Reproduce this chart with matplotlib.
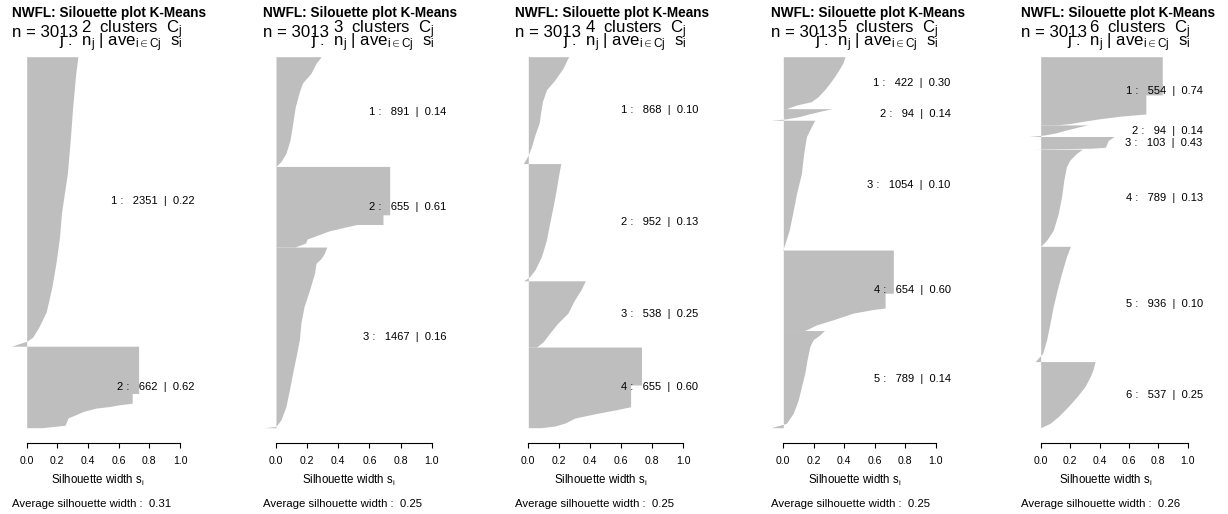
import matplotlib
matplotlib.use("Agg")
import matplotlib.pyplot as plt

plt.rcParams['font.family'] = ['Liberation Sans', 'DejaVu Sans']
plt.rcParams['mathtext.fontset'] = 'custom'
plt.rcParams['mathtext.rm'] = 'Liberation Sans'
plt.rcParams['mathtext.it'] = 'Liberation Sans'
plt.rcParams['mathtext.bf'] = 'Liberation Sans:bold'

title = "NWFL: Silouette plot K-Means"
n_total = 3013
n_clusters = [2, 3, 4, 5, 6]
avg_width = [0.31, 0.25, 0.25, 0.25, 0.26]

# each cluster profile: rank position inside the cluster (0 = top, 1 = bottom) and silhouette width
# k = 2
k2_sizes = [2351, 662]
k2_avg = [0.22, 0.62]
k2_rank = [[0, 0.058, 0.173, 0.288, 0.404, 0.539, 0.623, 0.709, 0.796, 0.882, 0.934, 0.969, 0.983, 1.0],
           [0, 0.58, 0.58, 0.70, 0.72, 0.74, 0.76, 0.80, 0.88, 0.97, 0.99, 1.0]]
k2_s = [[0.334, 0.32, 0.30, 0.284, 0.265, 0.227, 0.214, 0.192, 0.164, 0.127, 0.079, 0.039, 0.0, -0.10],
        [0.73, 0.73, 0.688, 0.688, 0.60, 0.54, 0.45, 0.37, 0.27, 0.25, 0.15, 0.10]]

# k = 3
k3_sizes = [891, 655, 1467]
k3_avg = [0.14, 0.61, 0.16]
k3_rank = [[0, 0.06, 0.15, 0.24, 0.32, 0.455, 0.61, 0.76, 0.88, 0.955, 1.0],
           [0, 0.60, 0.60, 0.72, 0.72, 0.75, 0.80, 0.85, 0.90, 0.95, 1.0],
           [0, 0.035, 0.063, 0.09, 0.146, 0.238, 0.33, 0.42, 0.513, 0.605, 0.697, 0.79, 0.882, 0.956, 0.993, 1.0]]
k3_s = [[0.29, 0.257, 0.225, 0.17, 0.15, 0.124, 0.107, 0.09, 0.064, 0.032, 0.0],
        [0.73, 0.73, 0.687, 0.687, 0.52, 0.45, 0.34, 0.27, 0.2, 0.19, 0.12],
        [0.326, 0.31, 0.29, 0.257, 0.247, 0.215, 0.18, 0.16, 0.15, 0.129, 0.107, 0.086, 0.064, 0.032, 0.0, -0.075]]

# k = 4
k4_sizes = [868, 952, 538, 655]
k4_avg = [0.10, 0.13, 0.25, 0.60]
k4_rank = [[0, 0.11, 0.22, 0.31, 0.42, 0.53, 0.62, 0.73, 0.84, 0.92, 1.0],
           [0, 0.082, 0.224, 0.366, 0.508, 0.65, 0.793, 0.906, 0.963, 1.0],
           [0, 0.136, 0.29, 0.49, 0.64, 0.79, 0.92, 1.0],
           [0, 0.47, 0.47, 0.74, 0.78, 0.82, 0.88, 0.94, 0.98, 1.0]]
k4_s = [[0.26, 0.223, 0.17, 0.117, 0.091, 0.079, 0.07, 0.043, 0.021, 0.0, -0.032],
        [0.21, 0.198, 0.18, 0.16, 0.138, 0.117, 0.085, 0.043, 0.01, -0.03],
        [0.368, 0.34, 0.298, 0.255, 0.19, 0.138, 0.096, 0.053],
        [0.73, 0.73, 0.66, 0.66, 0.56, 0.45, 0.30, 0.24, 0.17, 0.08]]

# k = 5
k5_sizes = [422, 94, 1054, 654, 789]
k5_avg = [0.30, 0.14, 0.10, 0.60, 0.14]
k5_rank = [[0, 0.128, 0.256, 0.385, 0.513, 0.64, 0.77, 0.865, 0.93, 1.0],
           [0, 0.2, 0.45, 0.7, 0.88, 1.0],
           [0, 0.05, 0.126, 0.254, 0.41, 0.563, 0.72, 0.846, 0.95, 1.0],
           [0, 0.537, 0.537, 0.72, 0.74, 0.785, 0.868, 0.93, 0.97, 1.0],
           [0, 0.045, 0.096, 0.165, 0.3, 0.44, 0.577, 0.715, 0.852, 0.955, 1.0]]
k5_s = [[0.405, 0.39, 0.364, 0.336, 0.304, 0.27, 0.228, 0.184, 0.087, 0.02],
        [0.32, 0.25, 0.17, 0.10, 0.02, -0.08],
        [0.206, 0.184, 0.152, 0.134, 0.119, 0.087, 0.061, 0.039, 0.011, -0.004],
        [0.722, 0.722, 0.668, 0.668, 0.585, 0.455, 0.325, 0.217, 0.174, 0.14],
        [0.27, 0.239, 0.195, 0.174, 0.156, 0.141, 0.119, 0.098, 0.065, 0.02, -0.08]]

# k = 6
k6_sizes = [554, 94, 103, 789, 936, 537]
k6_avg = [0.74, 0.14, 0.43, 0.13, 0.10, 0.25]
k6_rank = [[0, 0.56, 0.56, 0.84, 0.87, 0.91, 0.95, 0.98, 1.0],
           [0, 0.2, 0.45, 0.7, 0.88, 1.0],
           [0, 0.3, 0.85, 0.92, 0.97, 1.0],
           [0, 0.045, 0.113, 0.182, 0.32, 0.49, 0.664, 0.836, 0.938, 1.0],
           [0, 0.09, 0.234, 0.379, 0.523, 0.668, 0.812, 0.928, 1.0],
           [0, 0.126, 0.227, 0.38, 0.53, 0.68, 0.833, 0.934, 1.0]]
k6_s = [[0.827, 0.827, 0.715, 0.715, 0.55, 0.40, 0.28, 0.20, 0.10],
        [0.32, 0.25, 0.17, 0.10, 0.02, -0.08],
        [0.5, 0.46, 0.44, 0.35, 0.1, -0.07],
        [0.283, 0.243, 0.198, 0.175, 0.157, 0.142, 0.119, 0.085, 0.04, 0.0],
        [0.202, 0.175, 0.142, 0.112, 0.085, 0.063, 0.04, 0.013, -0.038],
        [0.37, 0.355, 0.337, 0.30, 0.247, 0.187, 0.119, 0.063, 0.0]]

panels = [(k2_sizes, k2_avg, k2_rank, k2_s),
          (k3_sizes, k3_avg, k3_rank, k3_s),
          (k4_sizes, k4_avg, k4_rank, k4_s),
          (k5_sizes, k5_avg, k5_rank, k5_s),
          (k6_sizes, k6_avg, k6_rank, k6_s)]

# layout in pixels
W, H = 1228, 514
x_left = [12.3, 263.3, 515, 770.7, 1021]
x_zero = [26.7, 276, 528.3, 783.3, 1040.7]
x_one = [180, 431.7, 683.3, 935.7, 1187.7]
bar_top, bar_bot = 56.7, 427.7
ax_top, ax_bot = 41.7, 442.7

def fx(px):
    return px / W

def fy(py):
    return 1 - py / H

fig = plt.figure(figsize=(W / 100, H / 100), dpi=100)

for i, (sizes, avgs, ranks, widths) in enumerate(panels):
    x0, x1, xl = x_zero[i], x_one[i], x_left[i]
    sc = x1 - x0
    xr = x1 + 3
    ax = fig.add_axes([fx(xl), fy(ax_bot), (xr - xl) / W, (ax_bot - ax_top) / H])
    N = sum(sizes)
    pad = (bar_top - ax_top) / (bar_bot - bar_top) * N
    ax.set_xlim((xl - x0) / sc, (xr - x0) / sc)
    ax.set_ylim(N + pad, -pad)

    start = 0
    for j, n in enumerate(sizes):
        y = [start + r * n for r in ranks[j]]
        ax.fill_betweenx(y, 0, widths[j], color='#bebebe', lw=0, clip_on=False)
        ax.annotate(f"{j + 1} :   {n}  |  {avgs[j]:.2f}", xy=(1, start + n / 2),
                    xytext=(10.8, 0), textcoords='offset points',
                    ha='right', va='center', fontsize=8, annotation_clip=False)
        start += n

    for side in ['top', 'right', 'left']:
        ax.spines[side].set_visible(False)
    ax.spines['bottom'].set_bounds(0, 1)
    ax.spines['bottom'].set_linewidth(0.8)
    ax.set_xticks([0, 0.2, 0.4, 0.6, 0.8, 1.0])
    ax.set_xticklabels(['0.0', '0.2', '0.4', '0.6', '0.8', '1.0'])
    ax.set_yticks([])
    ax.tick_params(axis='x', length=3.8, width=0.8, pad=6.0, labelsize=7.6)
    ax.patch.set_visible(False)

    fig.text(fx(xl), fy(17.3), title, fontsize=9.8, fontweight='bold', va='baseline')
    fig.text(fx(xl), fy(37.3), f"n = {n_total}", fontsize=12.1, va='baseline')
    fig.text(fx(xr), fy(33.3), rf"{n_clusters[i]}  clusters  $\mathrm{{C_j}}$",
             fontsize=12.1, ha='right', va='baseline')
    fig.text(fx(xr), fy(46.7), r"j :  $\mathrm{n_j}$ | $\mathrm{ave_{i\in Cj}}$  $\mathrm{s_i}$",
             fontsize=12.1, ha='right', va='baseline')
    fig.text(fx((xl + xr) / 2), fy(484.3), r"Silhouette width $\mathrm{s_i}$",
             fontsize=8.3, ha='center', va='baseline')
    fig.text(fx(xl), fy(507.3), f"Average silhouette width :  {avg_width[i]:.2f}",
             fontsize=8.2, va='baseline')

fig.savefig("out.png", dpi=100)
